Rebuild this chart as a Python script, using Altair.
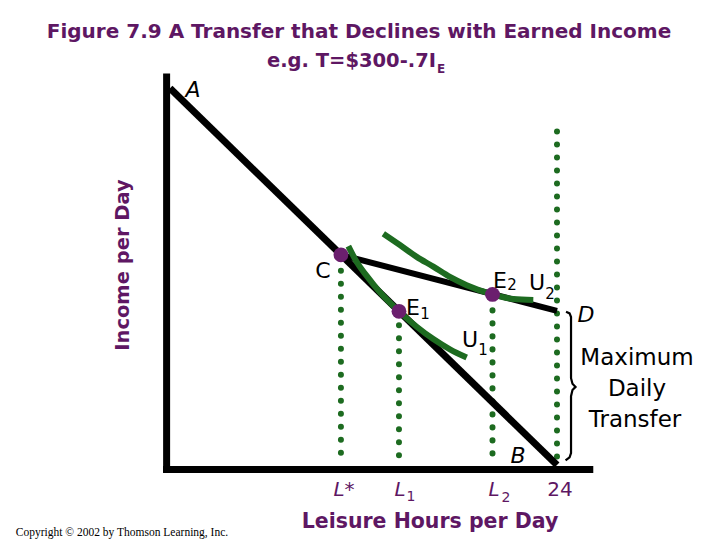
import altair as alt
import pandas as pd

# ---------------- data (leisure hours, income per day) ----------------
budget_hours = [0, 24]            # A -> B
budget_income = [733, 0]
transfer_hours = [10.6, 24]       # C -> D
transfer_income = [409, 300]

u1_hours = [11.06, 11.58, 12.20, 13.02, 14.2, 15.30, 16.33, 17.36, 18.40]
u1_income = [426, 395, 368, 336, 299, 269, 245, 225, 209]
u2_hours = [13.23, 14.26, 15.30, 16.33, 17.36, 18.40, 20.0, 21.29, 22.53]
u2_income = [450, 428, 405, 386, 366, 350, 332, 323, 321]

point_names = ["C", "E1", "E2"]
point_hours = [10.6, 14.2, 20.0]
point_income = [409, 299, 332]

drop_hours = [10.6, 14.2, 20.0, 24]
drop_top = [378, 272, 301, 649]
drop_bottom = [6, 6, 6, 6]

axis_x_hours = [-0.21, -0.21]
axis_x_income = [762, -15]
axis_y_hours = [-0.43, 26.25]
axis_y_income = [-8.8, -8.8]

brace_hours = [24.56, 24.78, 24.87, 24.87, 24.96, 25.15, 24.96, 24.87, 24.87, 24.78, 24.53]
brace_income = [298, 295, 288, 169, 158, 152, 146, 134, 23, 15, 9]

# ---------------- layout ----------------
W, H = 704, 532
PX_PER_HOUR = 16.125
PX_PER_DOLLAR = 0.51389
X0_PX, Y0_PX = 162, 457
XD = [-X0_PX / PX_PER_HOUR, (W - X0_PX) / PX_PER_HOUR]
YD = [-(H - Y0_PX) / PX_PER_DOLLAR, Y0_PX / PX_PER_DOLLAR]
xs = alt.Scale(domain=XD, nice=False, zero=False)
ys = alt.Scale(domain=YD, nice=False, zero=False)

PURPLE_T = "#5e1763"
PURPLE_P = "#6b1f6e"
GREEN = "#1d6b20"
SANS = "DejaVu Sans"


def X(f):
    return alt.X(f, type="quantitative", scale=xs, axis=None)


def Y(f):
    return alt.Y(f, type="quantitative", scale=ys, axis=None)


def segment(hx, hy, **kw):
    df = pd.DataFrame({"x": [hx[0]], "x2": [hx[1]], "y": [hy[0]], "y2": [hy[1]]})
    return alt.Chart(df).mark_rule(**kw).encode(
        x=X("x"), x2=alt.X2("x2"), y=Y("y"), y2=alt.Y2("y2"))


def curve(hx, hy, **kw):
    df = pd.DataFrame({"x": hx, "y": hy, "i": list(range(len(hx)))})
    return alt.Chart(df).mark_line(**kw).encode(x=X("x"), y=Y("y"), order="i:Q")


def label(text, x, y, size=22, color="black", weight="normal", style="normal",
          font=SANS, angle=0, align="center"):
    return alt.Chart(pd.DataFrame({"t": [text]})).mark_text(
        fontSize=size, color=color, fontWeight=weight, fontStyle=style,
        font=font, angle=angle, align=align, baseline="middle"
    ).encode(text="t:N", x=alt.value(x - 8), y=alt.value(y - 8))


layers = []
# axes
layers.append(segment(axis_x_hours, axis_x_income, color="black", strokeWidth=7))
layers.append(segment(axis_y_hours, axis_y_income, color="black", strokeWidth=7))
# dotted drop lines
drops = pd.DataFrame({"x": drop_hours, "y": drop_top, "y2": drop_bottom})
layers.append(alt.Chart(drops).mark_rule(
    color=GREEN, strokeWidth=6, strokeDash=[0.1, 12.9], strokeCap="round"
).encode(x=X("x"), y=Y("y"), y2=alt.Y2("y2")))
# budget lines
layers.append(segment(budget_hours, budget_income, color="black", strokeWidth=7))
layers.append(segment(transfer_hours, transfer_income, color="black", strokeWidth=6))
# indifference curves
layers.append(curve(u1_hours, u1_income, color=GREEN, strokeWidth=6, interpolate="monotone"))
layers.append(curve(u2_hours, u2_income, color=GREEN, strokeWidth=6, interpolate="monotone"))
# brace
layers.append(curve(brace_hours, brace_income, color="black", strokeWidth=2.2, interpolate="linear"))
# points
pts = pd.DataFrame({"name": point_names, "x": point_hours, "y": point_income})
layers.append(alt.Chart(pts).mark_point(
    filled=True, shape="circle", size=220, color=PURPLE_P, opacity=1
).encode(x=X("x"), y=Y("y")))

# texts
layers += [
    label("Figure 7.9 A Transfer that Declines with Earned Income", 359, 32, size=20,
          color=PURPLE_T, weight="bold"),
    label("e.g. T=$300-.7I", 436, 61, size=19.5, color=PURPLE_T, weight="bold", align="right"),
    label("E", 437, 69, size=12, color=PURPLE_T, weight="bold", align="left"),
    label("A", 193, 90, style="italic"),
    label("Income per Day", 123, 265, size=19.5, color=PURPLE_T, weight="bold", angle=270),
    label("C", 323, 271),
    label("E", 413, 308),
    label("1", 425, 314, size=15),
    label("E", 500, 281),
    label("2", 512, 285, size=15),
    label("U", 537, 283),
    label("2", 550, 294, size=15),
    label("U", 470, 340),
    label("1", 483, 350, size=15),
    label("D", 586, 315, style="italic"),
    label("Maximum", 637, 358, size=23),
    label("Daily", 637, 389, size=23),
    label("Transfer", 635, 420, size=23),
    label("B", 518, 456, style="italic"),
    label("L*", 344, 490, size=20, color=PURPLE_T, style="italic"),
    label("L", 400, 490, size=20, color=PURPLE_T, style="italic"),
    label("1", 411, 497, size=14, color=PURPLE_T),
    label("L", 494, 490, size=20, color=PURPLE_T, style="italic"),
    label("2", 506, 498, size=14, color=PURPLE_T),
    label("24", 560, 490, size=20, color=PURPLE_T),
    label("Leisure Hours per Day", 430, 522, size=20.5, color=PURPLE_T, weight="bold"),
    label("Copyright \u00a9 2002 by Thomson Learning, Inc.", 122, 533, size=11.5,
          font="Liberation Serif"),
]

chart = alt.layer(*layers).properties(
    width=W, height=H, padding=0, autosize=alt.AutoSizeParams(type="none")
).configure_view(stroke=None)

chart.save("out.html", embed_options={"renderer": "svg", "actions": False})
